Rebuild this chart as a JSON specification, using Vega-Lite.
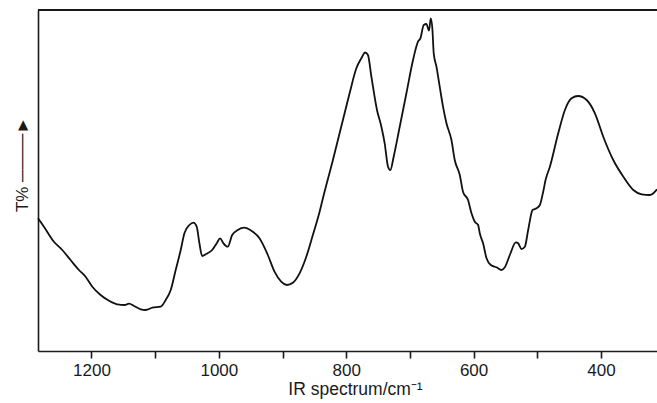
{
  "$schema": "https://vega.github.io/schema/vega-lite/v6.json",
  "width": 619,
  "height": 341,
  "autosize": {"type": "none"},
  "padding": {"left": 38, "top": 10, "right": 0, "bottom": 52},
  "background": "white",
  "config": {"view": {"stroke": null}},
  "data": {"values": [
    {"wn": 312.0, "t": 161.7}, {"wn": 323.0, "t": 156.0}, {"wn": 336.0, "t": 156.7}, {"wn": 349.2, "t": 161.0},
    {"wn": 364.9, "t": 174.3}, {"wn": 380.7, "t": 191.0}, {"wn": 396.4, "t": 214.3}, {"wn": 409.5, "t": 237.7},
    {"wn": 422.5, "t": 251.0}, {"wn": 435.7, "t": 255.0}, {"wn": 446.1, "t": 252.7}, {"wn": 456.6, "t": 241.0},
    {"wn": 467.1, "t": 217.7}, {"wn": 480.2, "t": 184.3}, {"wn": 487.0, "t": 171.0}, {"wn": 490.7, "t": 159.3},
    {"wn": 495.9, "t": 146.0}, {"wn": 501.1, "t": 142.7}, {"wn": 507.4, "t": 141.0}, {"wn": 514.3, "t": 121.0},
    {"wn": 519.5, "t": 104.3}, {"wn": 524.7, "t": 102.0}, {"wn": 530.0, "t": 107.7}, {"wn": 533.7, "t": 108.7},
    {"wn": 543.1, "t": 96.0}, {"wn": 551.0, "t": 83.7}, {"wn": 556.1, "t": 81.0}, {"wn": 564.0, "t": 83.7},
    {"wn": 573.0, "t": 86.0}, {"wn": 579.7, "t": 92.7}, {"wn": 585.1, "t": 107.7}, {"wn": 590.3, "t": 117.7},
    {"wn": 592.9, "t": 126.0}, {"wn": 598.1, "t": 129.3}, {"wn": 603.3, "t": 137.7}, {"wn": 608.7, "t": 151.0},
    {"wn": 616.5, "t": 159.0}, {"wn": 621.7, "t": 176.0}, {"wn": 629.6, "t": 191.0}, {"wn": 634.8, "t": 211.0},
    {"wn": 642.6, "t": 227.7}, {"wn": 648.0, "t": 244.3}, {"wn": 653.2, "t": 264.3}, {"wn": 658.3, "t": 284.3},
    {"wn": 662.6, "t": 297.7}, {"wn": 664.6, "t": 321.0}, {"wn": 667.3, "t": 332.7}, {"wn": 670.0, "t": 320.3},
    {"wn": 674.1, "t": 327.0}, {"wn": 678.3, "t": 326.0}, {"wn": 683.5, "t": 312.7}, {"wn": 687.3, "t": 309.3},
    {"wn": 695.1, "t": 291.0}, {"wn": 705.5, "t": 257.7}, {"wn": 716.0, "t": 224.3}, {"wn": 725.5, "t": 194.3},
    {"wn": 730.7, "t": 181.0}, {"wn": 734.4, "t": 184.3}, {"wn": 739.6, "t": 207.7}, {"wn": 744.8, "t": 224.3},
    {"wn": 751.7, "t": 241.0}, {"wn": 760.5, "t": 274.3}, {"wn": 765.9, "t": 296.0}, {"wn": 770.3, "t": 298.5},
    {"wn": 776.3, "t": 292.7}, {"wn": 784.1, "t": 282.7}, {"wn": 794.7, "t": 257.7}, {"wn": 805.2, "t": 231.0},
    {"wn": 820.9, "t": 191.0}, {"wn": 836.6, "t": 152.7}, {"wn": 841.8, "t": 139.3}, {"wn": 852.4, "t": 116.0},
    {"wn": 862.7, "t": 94.3}, {"wn": 873.3, "t": 77.7}, {"wn": 883.8, "t": 68.3}, {"wn": 893.2, "t": 66.0},
    {"wn": 902.1, "t": 69.3}, {"wn": 912.6, "t": 79.3}, {"wn": 923.1, "t": 96.0}, {"wn": 936.2, "t": 112.7},
    {"wn": 949.2, "t": 120.3}, {"wn": 959.8, "t": 123.3}, {"wn": 970.3, "t": 121.0}, {"wn": 979.1, "t": 116.0},
    {"wn": 986.0, "t": 104.3}, {"wn": 992.8, "t": 107.7}, {"wn": 998.0, "t": 112.7}, {"wn": 1003.3, "t": 107.7},
    {"wn": 1010.5, "t": 101.0}, {"wn": 1020.0, "t": 97.0}, {"wn": 1026.3, "t": 95.0}, {"wn": 1030.5, "t": 107.7},
    {"wn": 1034.8, "t": 124.3}, {"wn": 1039.9, "t": 128.3}, {"wn": 1046.2, "t": 126.0}, {"wn": 1054.1, "t": 117.7},
    {"wn": 1059.9, "t": 101.0}, {"wn": 1067.8, "t": 81.0}, {"wn": 1075.6, "t": 61.0}, {"wn": 1083.5, "t": 51.0},
    {"wn": 1091.4, "t": 44.3}, {"wn": 1104.4, "t": 43.3}, {"wn": 1114.9, "t": 41.0}, {"wn": 1122.8, "t": 41.7},
    {"wn": 1133.2, "t": 45.0}, {"wn": 1141.0, "t": 47.3}, {"wn": 1148.0, "t": 46.0}, {"wn": 1159.4, "t": 46.7},
    {"wn": 1172.5, "t": 50.3}, {"wn": 1185.7, "t": 56.0}, {"wn": 1198.7, "t": 64.3}, {"wn": 1209.3, "t": 74.3},
    {"wn": 1219.7, "t": 81.0}, {"wn": 1232.9, "t": 91.0}, {"wn": 1245.9, "t": 101.0}, {"wn": 1259.0, "t": 109.3},
    {"wn": 1274.7, "t": 124.3}, {"wn": 1284.0, "t": 132.7}
  ]},
  "layer": [
    {
      "mark": {"type": "line", "color": "#111111", "strokeWidth": 1.8, "strokeJoin": "round", "interpolate": "monotone"},
      "encoding": {
        "order": {"field": "wn", "sort": "descending"},
        "x": {
          "field": "wn", "type": "quantitative",
          "scale": {"domain": [312, 1284], "reverse": true, "nice": false, "zero": false},
          "axis": {
            "values": [1200, 1100, 1000, 900, 800, 700, 600, 500, 400],
            "format": "d",
            "labelExpr": "datum.value % 200 === 0 ? datum.label : ''",
            "grid": false,
            "domainColor": "#1a1a1a", "domainWidth": 1.6,
            "tickColor": "#1a1a1a", "tickWidth": 1.6, "tickSize": 7,
            "labelFont": "Liberation Sans", "labelFontSize": 17, "labelColor": "#1a1a1a",
            "labelBaseline": "alphabetic", "labelPadding": 17,
            "title": "IR spectrum/cm⁻¹",
            "titleFont": "Liberation Sans", "titleFontSize": 17.5, "titleFontWeight": "normal", "titleColor": "#1a1a1a",
            "titleBaseline": "alphabetic", "titleX": 317, "titleY": 43
          }
        },
        "y": {
          "field": "t", "type": "quantitative",
          "scale": {"domain": [0, 341], "nice": false, "zero": false},
          "axis": {
            "ticks": false, "labels": false, "grid": false,
            "domainColor": "#1a1a1a", "domainWidth": 1.6,
            "title": "T%    ────►",
            "titleFont": "Liberation Sans", "titleFontSize": 17, "titleFontWeight": "normal", "titleColor": "#1a1a1a",
            "titleAngle": -90, "titleAlign": "center", "titleBaseline": "alphabetic",
            "titleX": -11, "titleY": 154
          }
        }
      }
    },
    {
      "mark": {"type": "rule", "color": "#1a1a1a", "strokeWidth": 1.6},
      "encoding": {"y": {"datum": 341}}
    }
  ]
}
